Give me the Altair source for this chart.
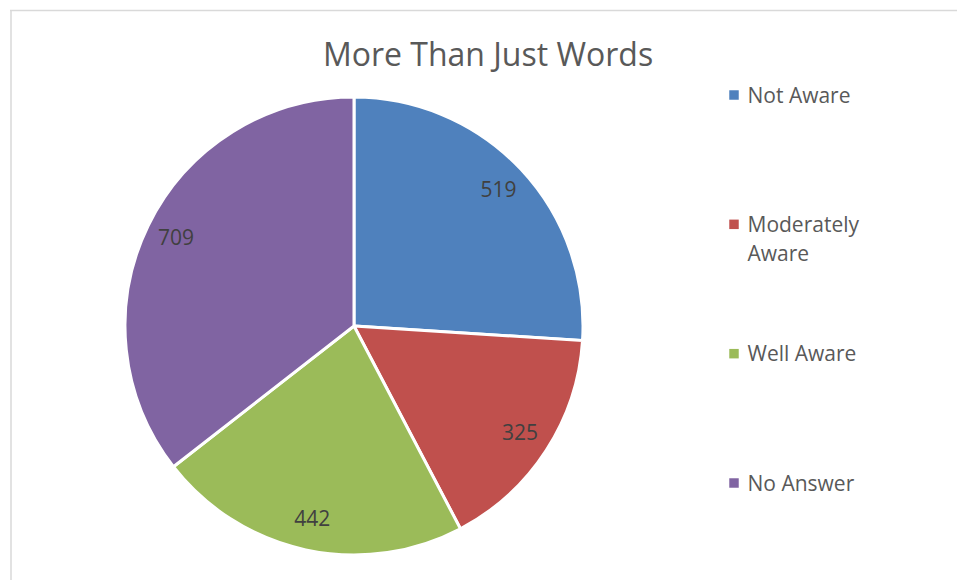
import altair as alt
import pandas as pd

# Survey responses
categories = ["Not Aware", "Moderately Aware", "Well Aware", "No Answer"]
counts = [519, 325, 442, 709]
legend_labels = ["Not Aware", "Moderately\nAware", "Well Aware", "No Answer"]
colors = ["#4F81BD", "#C0504D", "#9BBB59", "#8064A2"]
title_text = "More Than Just Words"

W, H = 957, 580
CX, CY, R = 354, 326, 229  # pie centre and radius in pixels
FONT = "Open Sans"

df = pd.DataFrame({
    "category": categories,
    "count": counts,
    "label": legend_labels,
    "idx": list(range(len(categories))),
})

color_scale = alt.Scale(domain=categories, range=colors)

base = alt.Chart(df)

pie = base.mark_arc(outerRadius=R, stroke="white", strokeWidth=3).encode(
    theta=alt.Theta("count:Q", stack=True),
    order=alt.Order("idx:Q"),
    color=alt.Color("category:N", scale=color_scale, legend=None),
    x=alt.value(CX),
    y=alt.value(CY),
)

values = base.mark_text(radius=198, font=FONT, fontSize=21, color="#404040").encode(
    theta=alt.Theta("count:Q", stack=True),
    order=alt.Order("idx:Q"),
    text=alt.Text("count:Q"),
    x=alt.value(CX),
    y=alt.value(CY),
)

# Legend drawn as marks, one row per category
legend_y = alt.Y(
    "category:N",
    scale=alt.Scale(type="point", domain=categories, range=[95, 483], padding=0),
    axis=None,
)

legend_marks = base.mark_square(size=90, opacity=1).encode(
    x=alt.value(734),
    y=legend_y,
    color=alt.Color("category:N", scale=color_scale, legend=None),
)

legend_text = base.mark_text(
    align="left", baseline="alphabetic", dy=7.5, lineBreak="\n", lineHeight=29,
    font=FONT, fontSize=21, color="#595959",
).encode(
    x=alt.value(747.5),
    y=legend_y,
    text="label:N",
)

title = alt.Chart(pd.DataFrame({"t": [title_text]})).mark_text(
    align="center", baseline="alphabetic", font=FONT, fontSize=32, color="#595959",
).encode(
    x=alt.value(488),
    y=alt.value(66),
    text="t:N",
)

# Chart frame (left and top edges)
frame_df = pd.DataFrame({"edge": ["frame"]})
frame_left = alt.Chart(frame_df).mark_rule(color="#d9d9d9", strokeWidth=1.5).encode(
    x=alt.value(11), y=alt.value(10), y2=alt.value(H)
)
frame_top = alt.Chart(frame_df).mark_rule(color="#d9d9d9", strokeWidth=1.5).encode(
    y=alt.value(10.5), x=alt.value(10), x2=alt.value(W)
)

chart = alt.layer(
    frame_left, frame_top, pie, values, legend_marks, legend_text, title
).properties(
    width=W, height=H, autosize=alt.AutoSizeParams(type="none"), padding=0,
    background="white",
).configure_view(stroke=None)

chart.save("out.html", embed_options={"renderer": "svg", "actions": False})
